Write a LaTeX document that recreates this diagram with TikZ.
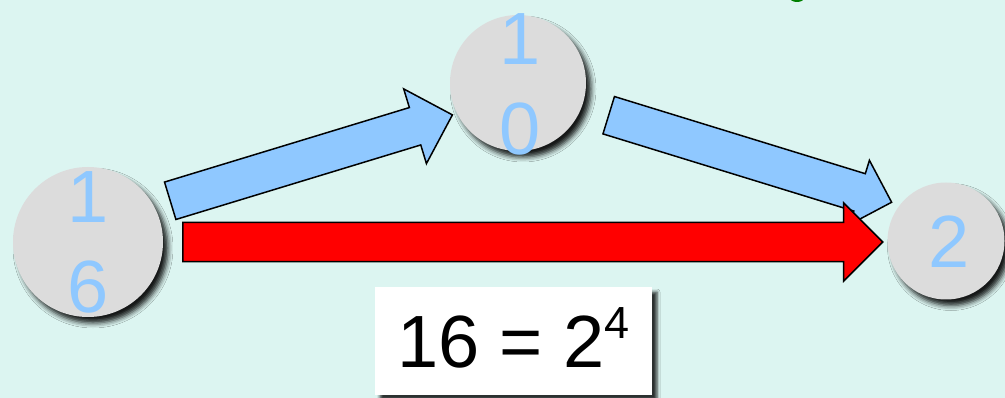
\documentclass[tikz,border=0pt]{standalone}
\usepackage{fontspec}
\setmainfont{Liberation Sans}
\usetikzlibrary{shapes.arrows,shadows.blur}
\definecolor{bgmint}{RGB}{220,245,241}
\definecolor{ltblue}{RGB}{143,200,255}
\definecolor{ballgray}{RGB}{220,220,220}
\definecolor{ttlgreen}{RGB}{0,128,0}
\tikzset{
  ball/.style={circle, fill=ballgray, inner sep=0pt,
    blur shadow={shadow xshift=5pt, shadow yshift=-6pt, shadow blur radius=5pt, shadow opacity=90}},
  digits/.style={text=ltblue, inner sep=0pt, align=center, font=\fontsize{74}{90}\selectfont},
  blockarrow/.style={single arrow, draw=black, line width=1.5pt, inner sep=0pt,
    single arrow tip angle=90, single arrow head indent=0pt, anchor=tail,
    text height=18.8pt, text depth=18.8pt, text width=0pt},
  eqbox/.style={fill=white, inner sep=0pt, minimum width=277pt, minimum height=108pt,
    text height=80pt, text depth=28pt, font=\fontsize{74}{90}\selectfont,
    blur shadow={shadow xshift=5pt, shadow yshift=-5pt, shadow blur radius=3pt, shadow opacity=80}}
}
\begin{document}
\begin{tikzpicture}[x=1pt,y=-1pt]
  \useasboundingbox (0,0) rectangle (1005,398);
  \clip (0,0) rectangle (1005,398);
  \fill[bgmint] (0,0) rectangle (1005,398);
  \fill[ttlgreen] (797,-2) ellipse (7 and 4);
  % balls
  \node[ball, minimum size=150pt] (a) at (88,242) {};
  \node[ball, minimum size=136pt] (b) at (518,83) {};
  \node[ball, minimum size=117pt] (c) at (946,241) {};
  % arrows
  \node[blockarrow, fill=ltblue, minimum height=295pt,
        single arrow head extend=19.5pt, rotate=16.93] (ab) at (169.5,201) {};
  \node[blockarrow, fill=ltblue, minimum height=296pt,
        single arrow head extend=14pt, rotate=-17.1] (bc) at (608,115) {};
  \node[blockarrow, fill=red, minimum height=700pt,
        single arrow head extend=19.5pt] (ac) at (182,242) {};
  % digits
  \node[digits] (ta) at (88,242) {1\\6};
  \node[digits] (tb) at (520,84) {1\\0};
  \node[digits] (tc) at (949,241.5) {2};
  % equation
  \node[eqbox] (eq) at (513.5,341) {16 = 2\raisebox{29pt}{\fontsize{45}{45}\selectfont 4}};
\end{tikzpicture}
\end{document}
